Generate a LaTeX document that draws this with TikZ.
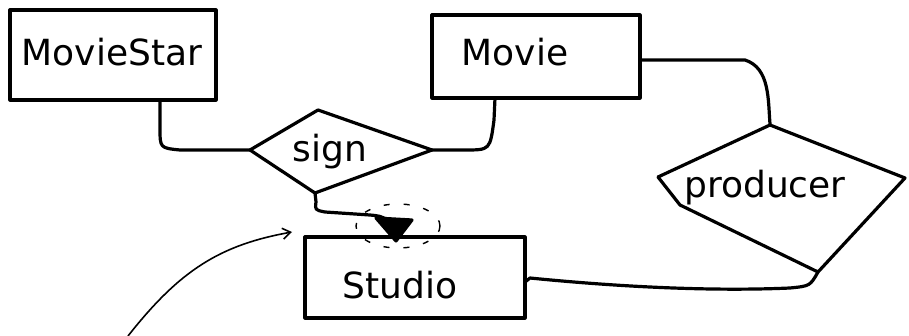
\documentclass[tikz,border=0pt]{standalone}
\usepackage{fontspec}
\setmainfont{DejaVu Sans}
\usetikzlibrary{arrows.meta}
\begin{document}
\begin{tikzpicture}[x=1pt,y=-1pt,
  ink/.style={line width=3.2pt,line cap=round,line join=round},
  lbl/.style={font=\fontsize{36}{38}\selectfont},
  entitybox/.style={ink,draw},
  relshape/.style={ink,draw}]
\useasboundingbox (0,0) rectangle (909,336);
% entities
\draw[entitybox] (10,10) rectangle (216,100);
\node[lbl] (moviestar) at (112,52) {MovieStar};
\draw[entitybox] (432,15) rectangle (640,98);
\node[lbl] (movie) at (515,52) {Movie};
\draw[entitybox] (305,237) rectangle (525,318);
\node[lbl] (studio) at (400,285) {Studio};
% relationships
\draw[relshape] (250,150) -- (318,110) -- (432,150) -- (315,193) -- cycle;
\node[lbl] (sign) at (330,152) {sign};
\draw[relshape] (658,177) -- (770,125) -- (905,178) -- (818,272) -- (680,205) -- (658,177);
\node[lbl] (producer) at (765,188) {producer};
% named anchors
\coordinate (msB) at (160,100);
\coordinate (sgL) at (250,150);
\coordinate (mvB) at (495,98);
\coordinate (sgR) at (432,150);
\coordinate (sgB) at (315,193);
\coordinate (stT) at (396,241);
\coordinate (mvR) at (640,60);
\coordinate (prT) at (770,124);
\coordinate (stR) at (525,282);
\coordinate (prB) at (818,272);
\coordinate (free) at (128,336);
\coordinate (stTL) at (292,232);
% connectors
\draw[ink] (msB) -- (160,128) .. controls (160,148) .. (180,150) -- (sgL);
\draw[ink] (mvB) -- (494,120) .. controls (490,150) .. (465,150) -- (sgR);
\draw[ink] (mvR) -- (745,60) .. controls (770,68) and (768,100) .. (prT);
\draw[ink] (stR) -- (530,278) .. controls (600,285) and (700,292) .. (790,288) .. controls (810,286) .. (prB);
\draw[ink] (sgB) -- (316,202) .. controls (315,210) .. (325,212) -- (370,215) .. controls (380,216) .. (388,220);
\fill[ink,draw] (376,218) -- (412,220) -- (stT) -- cycle;
\draw[line width=1.4pt,dash pattern=on 6pt off 14pt] (398,226) ellipse (42 and 22);
\draw[line width=1.6pt,-{Straight Barb[length=8pt,width=11pt]}] (free) .. controls (180,270) and (220,245) .. (stTL);
\end{tikzpicture}
\end{document}
